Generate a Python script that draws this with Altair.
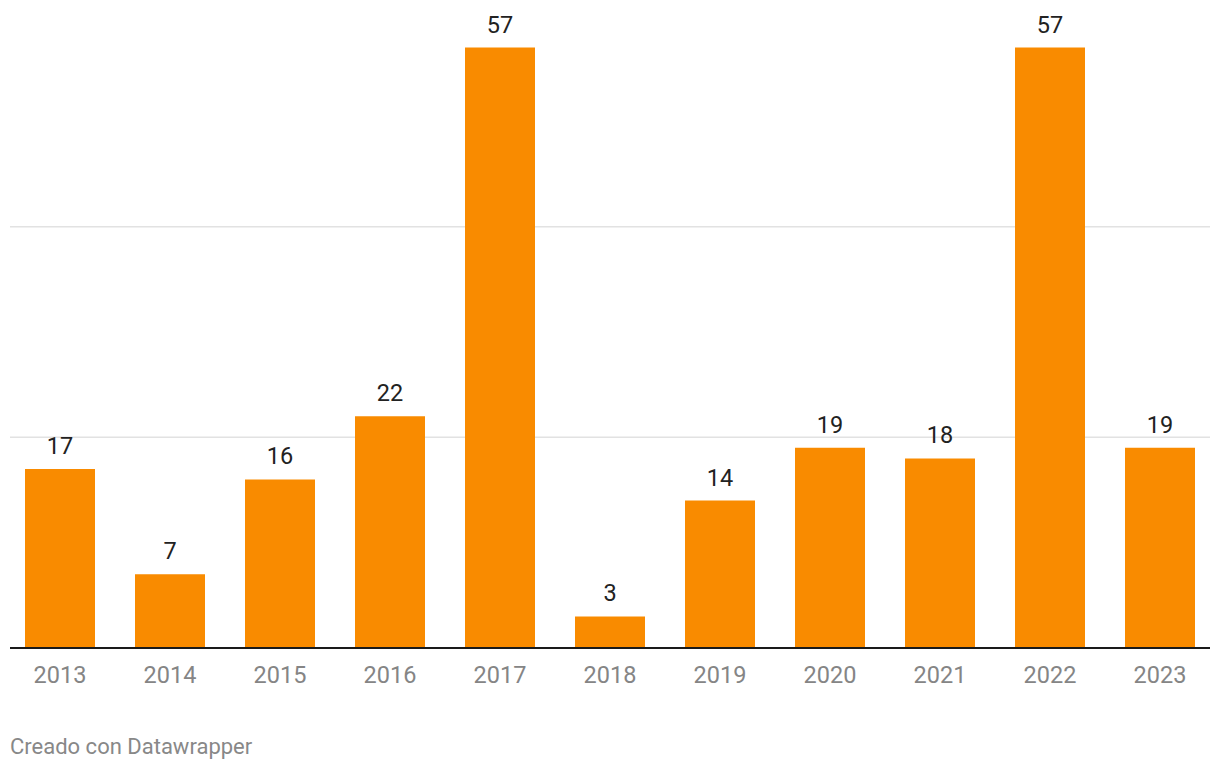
import altair as alt
import pandas as pd

years = ["2013", "2014", "2015", "2016", "2017", "2018", "2019", "2020", "2021", "2022", "2023"]
values = [17, 7, 16, 22, 57, 3, 14, 19, 18, 57, 19]
grid_values = [20, 40]
credit = "Creado con Datawrapper"

df = pd.DataFrame({"year": years, "value": values})
grid_df = pd.DataFrame({"g": grid_values})

W, H = 1210, 632

xscale = alt.Scale(paddingInner=40 / 110, paddingOuter=20 / 110)
yscale = alt.Scale(domain=[0, 60])

grid = alt.Chart(grid_df).mark_rule(color="#e2e2e2", strokeWidth=1.5).encode(
    y=alt.Y("g:Q", scale=yscale, axis=None),
    x=alt.value(5),
    x2=alt.value(1205),
)

bars = alt.Chart(df).mark_bar(color="#f98b00").encode(
    x=alt.X(
        "year:N",
        scale=xscale,
        sort=years,
        axis=alt.Axis(
            title=None,
            labelAngle=0,
            domain=False,
            ticks=False,
            tickSize=0,
            labelPadding=34,
            labelBaseline="alphabetic",
            labelFont="Roboto",
            labelFontSize=23.5,
            labelColor="#858585",
        ),
    ),
    y=alt.Y("value:Q", scale=yscale, axis=None),
)

labels = alt.Chart(df).mark_text(
    font="Roboto", fontSize=23.5, color="#222222", baseline="alphabetic", dy=-15
).encode(
    x=alt.X("year:N", scale=xscale, sort=years),
    y=alt.Y("value:Q", scale=yscale),
    text=alt.Text("value:Q"),
)

baseline = alt.Chart(grid_df).mark_rule(color="#1a1a1a", strokeWidth=2).encode(
    y=alt.datum(0, scale=yscale),
    x=alt.value(5),
    x2=alt.value(1205),
)

credit_text = alt.Chart(pd.DataFrame({"t": [credit]})).mark_text(
    font="Roboto", fontSize=22, color="#888888", align="left", baseline="alphabetic"
).encode(
    x=alt.value(5),
    y=alt.value(754 - 16),
    text="t:N",
)

chart = (
    alt.layer(grid, bars, baseline, labels, credit_text)
    .properties(
        width=W,
        height=H,
        padding={"left": 5, "top": 16, "right": 5, "bottom": 122},
        autosize=alt.AutoSizeParams(type="none"),
        background="white",
    )
    .configure_view(stroke=None)
)

chart.save("out.html", embed_options={"renderer": "svg", "actions": False})
